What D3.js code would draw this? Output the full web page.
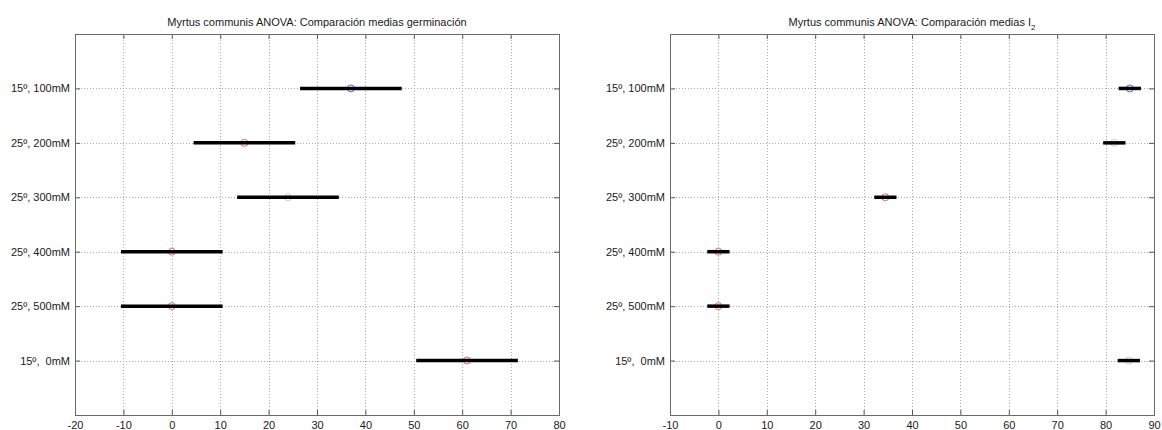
<!DOCTYPE html>
<html>
<head>
<meta charset="utf-8">
<script src="https://cdn.jsdelivr.net/npm/d3@7"></script>
<style>
  html, body { margin: 0; padding: 0; background: #fff; }
  svg { display: block; }
  text { font-family: "Liberation Sans", Arial, Helvetica, sans-serif; }
</style>
</head>
<body>
<svg id="chart" width="1162" height="430"></svg>
<script>
// ---------- data ----------
const categories = ["15º, 100mM", "25º, 200mM", "25º, 300mM", "25º, 400mM", "25º, 500mM", "15º,  0mM"];

const germMeans = [37, 15, 24, 0, 0, 61];
const germLow   = [26.5, 4.5, 13.5, -10.5, -10.5, 50.5];
const germHigh  = [47.5, 25.5, 34.5, 10.5, 10.5, 71.5];
const germStatus = ["sel", "diff", "same", "diff", "diff", "diff"];
const germTicks = [-20, -10, 0, 10, 20, 30, 40, 50, 60, 70, 80];

const i2Means = [85, 81.8, 34.5, 0, 0, 84.8];
const i2Low   = [82.7, 79.5, 32.2, -2.3, -2.3, 82.5];
const i2High  = [87.3, 84.1, 36.8, 2.3, 2.3, 87.1];
const i2Status = ["sel", "same", "diff", "diff", "diff", "same"];
const i2Ticks = [-10, 0, 10, 20, 30, 40, 50, 60, 70, 80, 90];

const statusColor = { sel: "#6060d0", diff: "#e06a6a", same: "#cfcfcf" };

// ---------- drawing ----------
const svg = d3.select("#chart");
const yTop = 34, yBottom = 415;

function panel(opts) {
  const { x0, x1, domain, ticks, means, low, high, status, title } = opts;
  const x = d3.scaleLinear().domain(domain).range([x0, x1]);
  const y = d3.scaleLinear().domain([0, 7]).range([yBottom, yTop]);
  const yVals = categories.map((c, i) => categories.length - i);
  const g = svg.append("g");

  // grid
  const grid = g.append("g").attr("stroke", "#a8a8a8").attr("stroke-width", 1)
    .attr("stroke-dasharray", "1,2").attr("fill", "none");
  grid.selectAll("line.v").data(ticks.slice(1, -1)).join("line")
    .attr("x1", d => Math.round(x(d)) + 0.5).attr("x2", d => Math.round(x(d)) + 0.5)
    .attr("y1", yTop).attr("y2", yBottom);
  grid.selectAll("line.h").data(yVals).join("line")
    .attr("y1", d => Math.round(y(d)) + 0.5).attr("y2", d => Math.round(y(d)) + 0.5)
    .attr("x1", x0).attr("x2", x1);

  // axes (ticks inward)
  const styleAxis = sel => {
    sel.select(".domain").remove();
    sel.selectAll(".tick line").attr("stroke", "#555");
    sel.selectAll(".tick text").attr("fill", "#1a1a1a").style("font-size", "11px")
      .style("font-family", "'Liberation Sans', Arial, sans-serif");
  };
  g.append("g").attr("transform", `translate(0,${yBottom})`)
    .call(d3.axisBottom(x).tickValues(ticks).tickFormat(d => String(d)).tickSizeInner(-5).tickSizeOuter(0).tickPadding(6))
    .call(styleAxis);
  g.append("g").attr("transform", `translate(0,${yTop})`)
    .call(d3.axisTop(x).tickValues(ticks).tickFormat("").tickSizeInner(-5).tickSizeOuter(0))
    .call(styleAxis);
  g.append("g").attr("transform", `translate(${x0},0)`)
    .call(d3.axisLeft(y).tickValues(yVals).tickFormat((d) => categories[categories.length - d])
      .tickSizeInner(-5).tickSizeOuter(0).tickPadding(5))
    .call(styleAxis)
    .selectAll(".tick text").style("white-space", "pre");
  g.append("g").attr("transform", `translate(${x1},0)`)
    .call(d3.axisRight(y).tickValues(yVals).tickFormat("").tickSizeInner(-5).tickSizeOuter(0))
    .call(styleAxis);

  // box
  g.append("rect").attr("x", x0 + 0.5).attr("y", yTop + 0.5)
    .attr("width", x1 - x0).attr("height", yBottom - yTop)
    .attr("fill", "none").attr("stroke", "#6a6a6a").attr("stroke-width", 1);

  // means (drawn under the interval bars)
  g.selectAll("circle.m").data(categories).join("circle")
    .attr("cx", (d, i) => x(means[i])).attr("cy", (d, i) => y(yVals[i]))
    .attr("r", 3.5).attr("fill", "none")
    .attr("stroke", (d, i) => statusColor[status[i]]).attr("stroke-width", 1);
  // intervals
  g.selectAll("line.bar").data(categories).join("line")
    .attr("x1", (d, i) => x(low[i])).attr("x2", (d, i) => x(high[i]))
    .attr("y1", (d, i) => y(yVals[i])).attr("y2", (d, i) => y(yVals[i]))
    .attr("stroke", "#000").attr("stroke-width", 3.5);

  // title
  const t = g.append("text").attr("x", (x0 + x1) / 2).attr("y", 26)
    .attr("text-anchor", "middle").attr("fill", "#1a1a1a").style("font-size", "11px");
  title(t);
}

panel({
  x0: 75, x1: 559, domain: [-20, 80], ticks: germTicks,
  means: germMeans, low: germLow, high: germHigh, status: germStatus,
  title: t => t.text("Myrtus communis ANOVA: Comparación medias germinación")
});
panel({
  x0: 670, x1: 1154, domain: [-10, 90], ticks: i2Ticks,
  means: i2Means, low: i2Low, high: i2High, status: i2Status,
  title: t => {
    t.append("tspan").text("Myrtus communis ANOVA: Comparación medias I");
    t.append("tspan").attr("dy", 4).style("font-size", "8px").text("2");
  }
});
</script>
</body>
</html>
